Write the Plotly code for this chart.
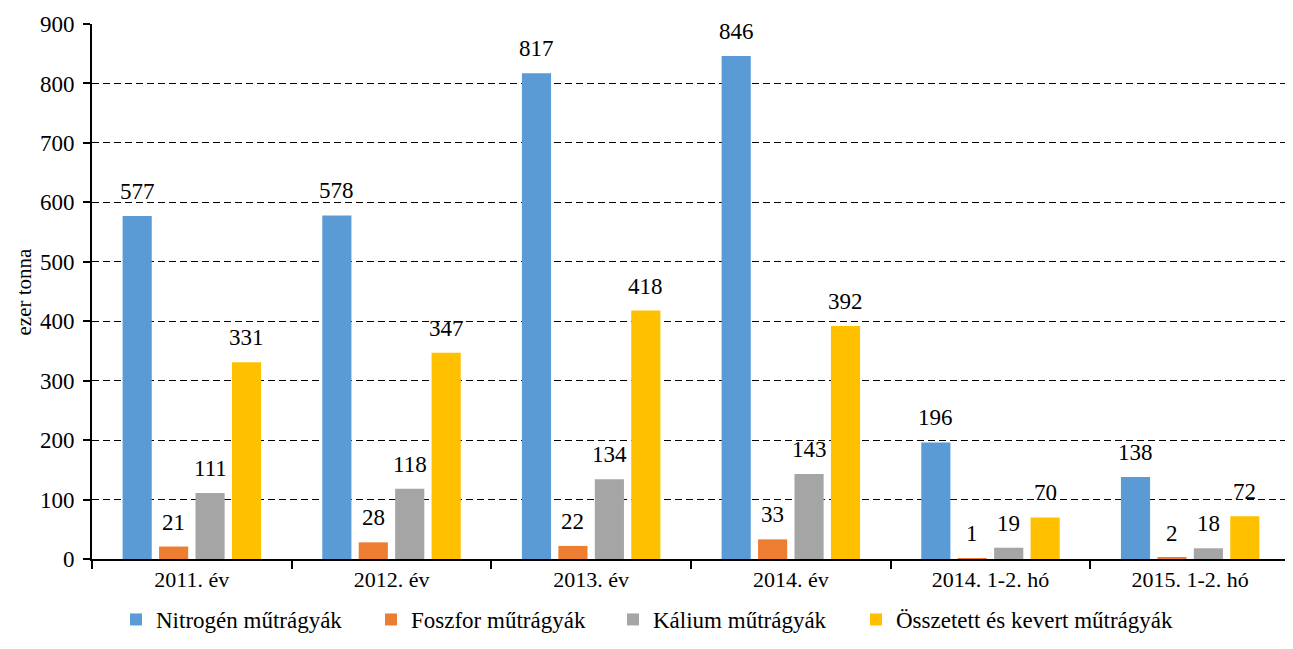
import plotly.graph_objects as go

categories = ["2011. év", "2012. év", "2013. év", "2014. év", "2014. 1-2. hó", "2015. 1-2. hó"]
series_names = ["Nitrogén műtrágyák", "Foszfor műtrágyák", "Kálium műtrágyák", "Összetett és kevert műtrágyák"]
nitrogen = [577, 578, 817, 846, 196, 138]
foszfor = [21, 28, 22, 33, 1, 2]
kalium = [111, 118, 134, 143, 19, 18]
osszetett = [331, 347, 418, 392, 70, 72]
y_ticks = [0, 100, 200, 300, 400, 500, 600, 700, 800, 900]
y_title = "ezer tonna"

series_values = [nitrogen, foszfor, kalium, osszetett]
colors = ["#5B9BD5", "#ED7D31", "#A5A5A5", "#FFC000"]
legend_left = [116, 371, 613, 856]  # page px of legend boxes

# the page body has an 8px margin; size the figure so the page does not scroll
W, H = 1285, 633
ml, mr, mt, mb = 84, 3, 16, 82
bargap = 0.27
bargroupgap = 0.2
font_family = "Liberation Serif"

fig = go.Figure()
legend_ids = ["legend", "legend2", "legend3", "legend4"]
for name, vals, col, lid in zip(series_names, series_values, colors, legend_ids):
    fig.add_trace(go.Bar(name=name, x=categories, y=vals, marker_color=col,
                         marker_line_width=0, legend=lid))

plot_w = W - ml - mr
plot_h = H - mt - mb
cat_px = plot_w / len(categories)
pitch = cat_px * (1 - bargap) / len(series_values)
annotations = []
for i, vals in enumerate(series_values):
    xshift = (i - (len(series_values) - 1) / 2) * pitch
    for c, v in zip(categories, vals):
        annotations.append(dict(x=c, y=v, xref="x", yref="y", text=str(v),
                                showarrow=False, yanchor="bottom", xshift=xshift,
                                yshift=10, font=dict(size=23, color="black", family=font_family)))

# y-axis title
annotations.append(dict(x=(2 - ml) / plot_w, y=0.5, xref="paper", yref="paper",
                        text=y_title, textangle=-90, showarrow=False,
                        xanchor="left", yanchor="middle", borderpad=0,
                        font=dict(size=21, color="black", family=font_family)))

legend_layout = {}
for lid, lx in zip(legend_ids, legend_left):
    legend_layout[lid] = dict(orientation="h", xref="container", x=(lx - 8) / W, xanchor="left",
                              yref="container", y=0.0, yanchor="bottom",
                              font=dict(size=23, family=font_family, color="black"),
                              itemwidth=30, bgcolor="rgba(0,0,0,0)", borderwidth=0)

fig.update_layout(
    width=W, height=H,
    margin=dict(l=ml, r=mr, t=mt, b=mb, autoexpand=False),
    barmode="group", bargap=bargap, bargroupgap=bargroupgap,
    plot_bgcolor="white", paper_bgcolor="white",
    font=dict(family=font_family, color="black", size=22),
    annotations=annotations,
    showlegend=True,
    **legend_layout,
)
fig.update_xaxes(showline=True, linecolor="black", linewidth=2, ticks="outside",
                 tickson="boundaries", ticklen=8, tickwidth=2, tickcolor="black",
                 tickfont=dict(size=22), showgrid=False, automargin=False)
fig.update_yaxes(range=[0, 900], tickvals=y_ticks, showline=True, linecolor="black",
                 linewidth=2, ticks="outside", ticklen=7, tickwidth=2, tickcolor="black",
                 tickfont=dict(size=23), showgrid=True, gridcolor="black", gridwidth=1,
                 griddash="7px,4px", zeroline=False, ticklabelstandoff=4, automargin=False)

fig.write_html("out.html")
